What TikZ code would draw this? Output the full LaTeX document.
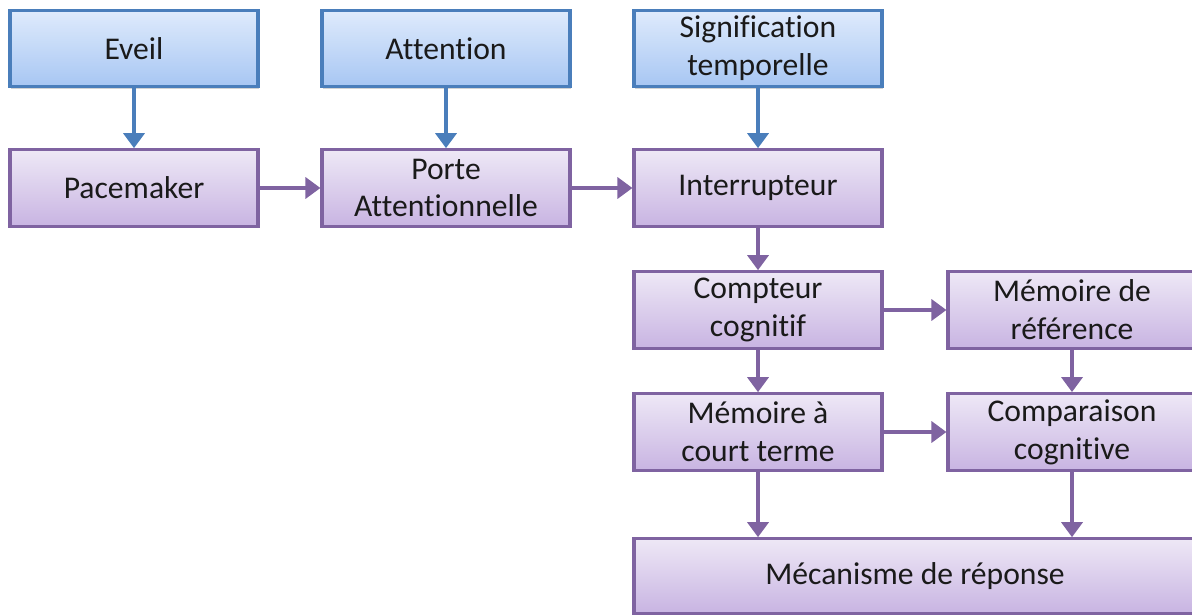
\documentclass[tikz,border=0pt]{standalone}
\usepackage{fontspec}
\setmainfont{Carlito}[Ligatures=NoCommon]
\usepackage{tikz}
\usetikzlibrary{arrows.meta, positioning, shadows}
\usepackage{xcolor}

\definecolor{bluedge}{HTML}{4A7EBB}
\definecolor{bluetop}{HTML}{DFEBFC}
\definecolor{bluebot}{HTML}{A7C6F3}
\definecolor{purpedge}{HTML}{7F63A1}
\definecolor{purptop}{HTML}{EEE8F6}
\definecolor{purpbot}{HTML}{C8B4E2}
\definecolor{txt}{HTML}{1A1A1A}

\tikzset{
  box/.style={rectangle, minimum width=4.96cm, minimum height=1.53cm,
    line width=1.8pt, align=center, text=txt,
    font=\fontsize{18}{21.5}\selectfont,
    drop shadow={opacity=0.35, shadow xshift=0.6pt, shadow yshift=-1.2pt}},
  inbox/.style={box, draw=bluedge, top color=bluetop, bottom color=bluebot},
  stage/.style={box, draw=purpedge, top color=purptop, bottom color=purpbot},
  bluearr/.style={draw=bluedge, line width=2pt,
    -{Triangle[width=0.42cm, length=0.3cm]}},
  purparr/.style={draw=purpedge, line width=2pt,
    -{Triangle[width=0.42cm, length=0.3cm]}}
}

\begin{document}
\begin{tikzpicture}[x=0.02cm, y=-0.02cm]
\useasboundingbox (0,0) rectangle (1192,615);

% inputs
\node[inbox] (eveil) at (134,48.5) {Eveil};
\node[inbox] (attention) at (446,48.5) {Attention};
\node[inbox] (signif) at (758,48.5) {Signification\\temporelle};

% horloge
\node[stage] (pacemaker) at (134,188) {Pacemaker};
\node[stage] (porte) at (446,188) {Porte\\Attentionnelle};
\node[stage] (interrupteur) at (758,188) {Interrupteur};

% memoire et decision
\node[stage] (compteur) at (758,310) {Compteur\\cognitif};
\node[stage] (memref) at (1072,310) {Mémoire de\\référence};
\node[stage] (memct) at (758,432) {Mémoire à\\court terme};
\node[stage] (comparaison) at (1072,432) {Comparaison\\cognitive};
\node[stage, minimum width=11.24cm, minimum height=1.49cm] (reponse) at (915,576) {Mécanisme de réponse};

\draw[bluearr] (eveil) -- (pacemaker);
\draw[bluearr] (attention) -- (porte);
\draw[bluearr] (signif) -- (interrupteur);

\draw[purparr] (pacemaker) -- (porte);
\draw[purparr] (porte) -- (interrupteur);
\draw[purparr] (interrupteur) -- (compteur);
\draw[purparr] (compteur) -- (memref);
\draw[purparr] (compteur) -- (memct);
\draw[purparr] (memref) -- (comparaison);
\draw[purparr] (memct) -- (comparaison);
\draw[purparr] (memct) -- (memct |- reponse.north);
\draw[purparr] (comparaison) -- (comparaison |- reponse.north);

\end{tikzpicture}
\end{document}
